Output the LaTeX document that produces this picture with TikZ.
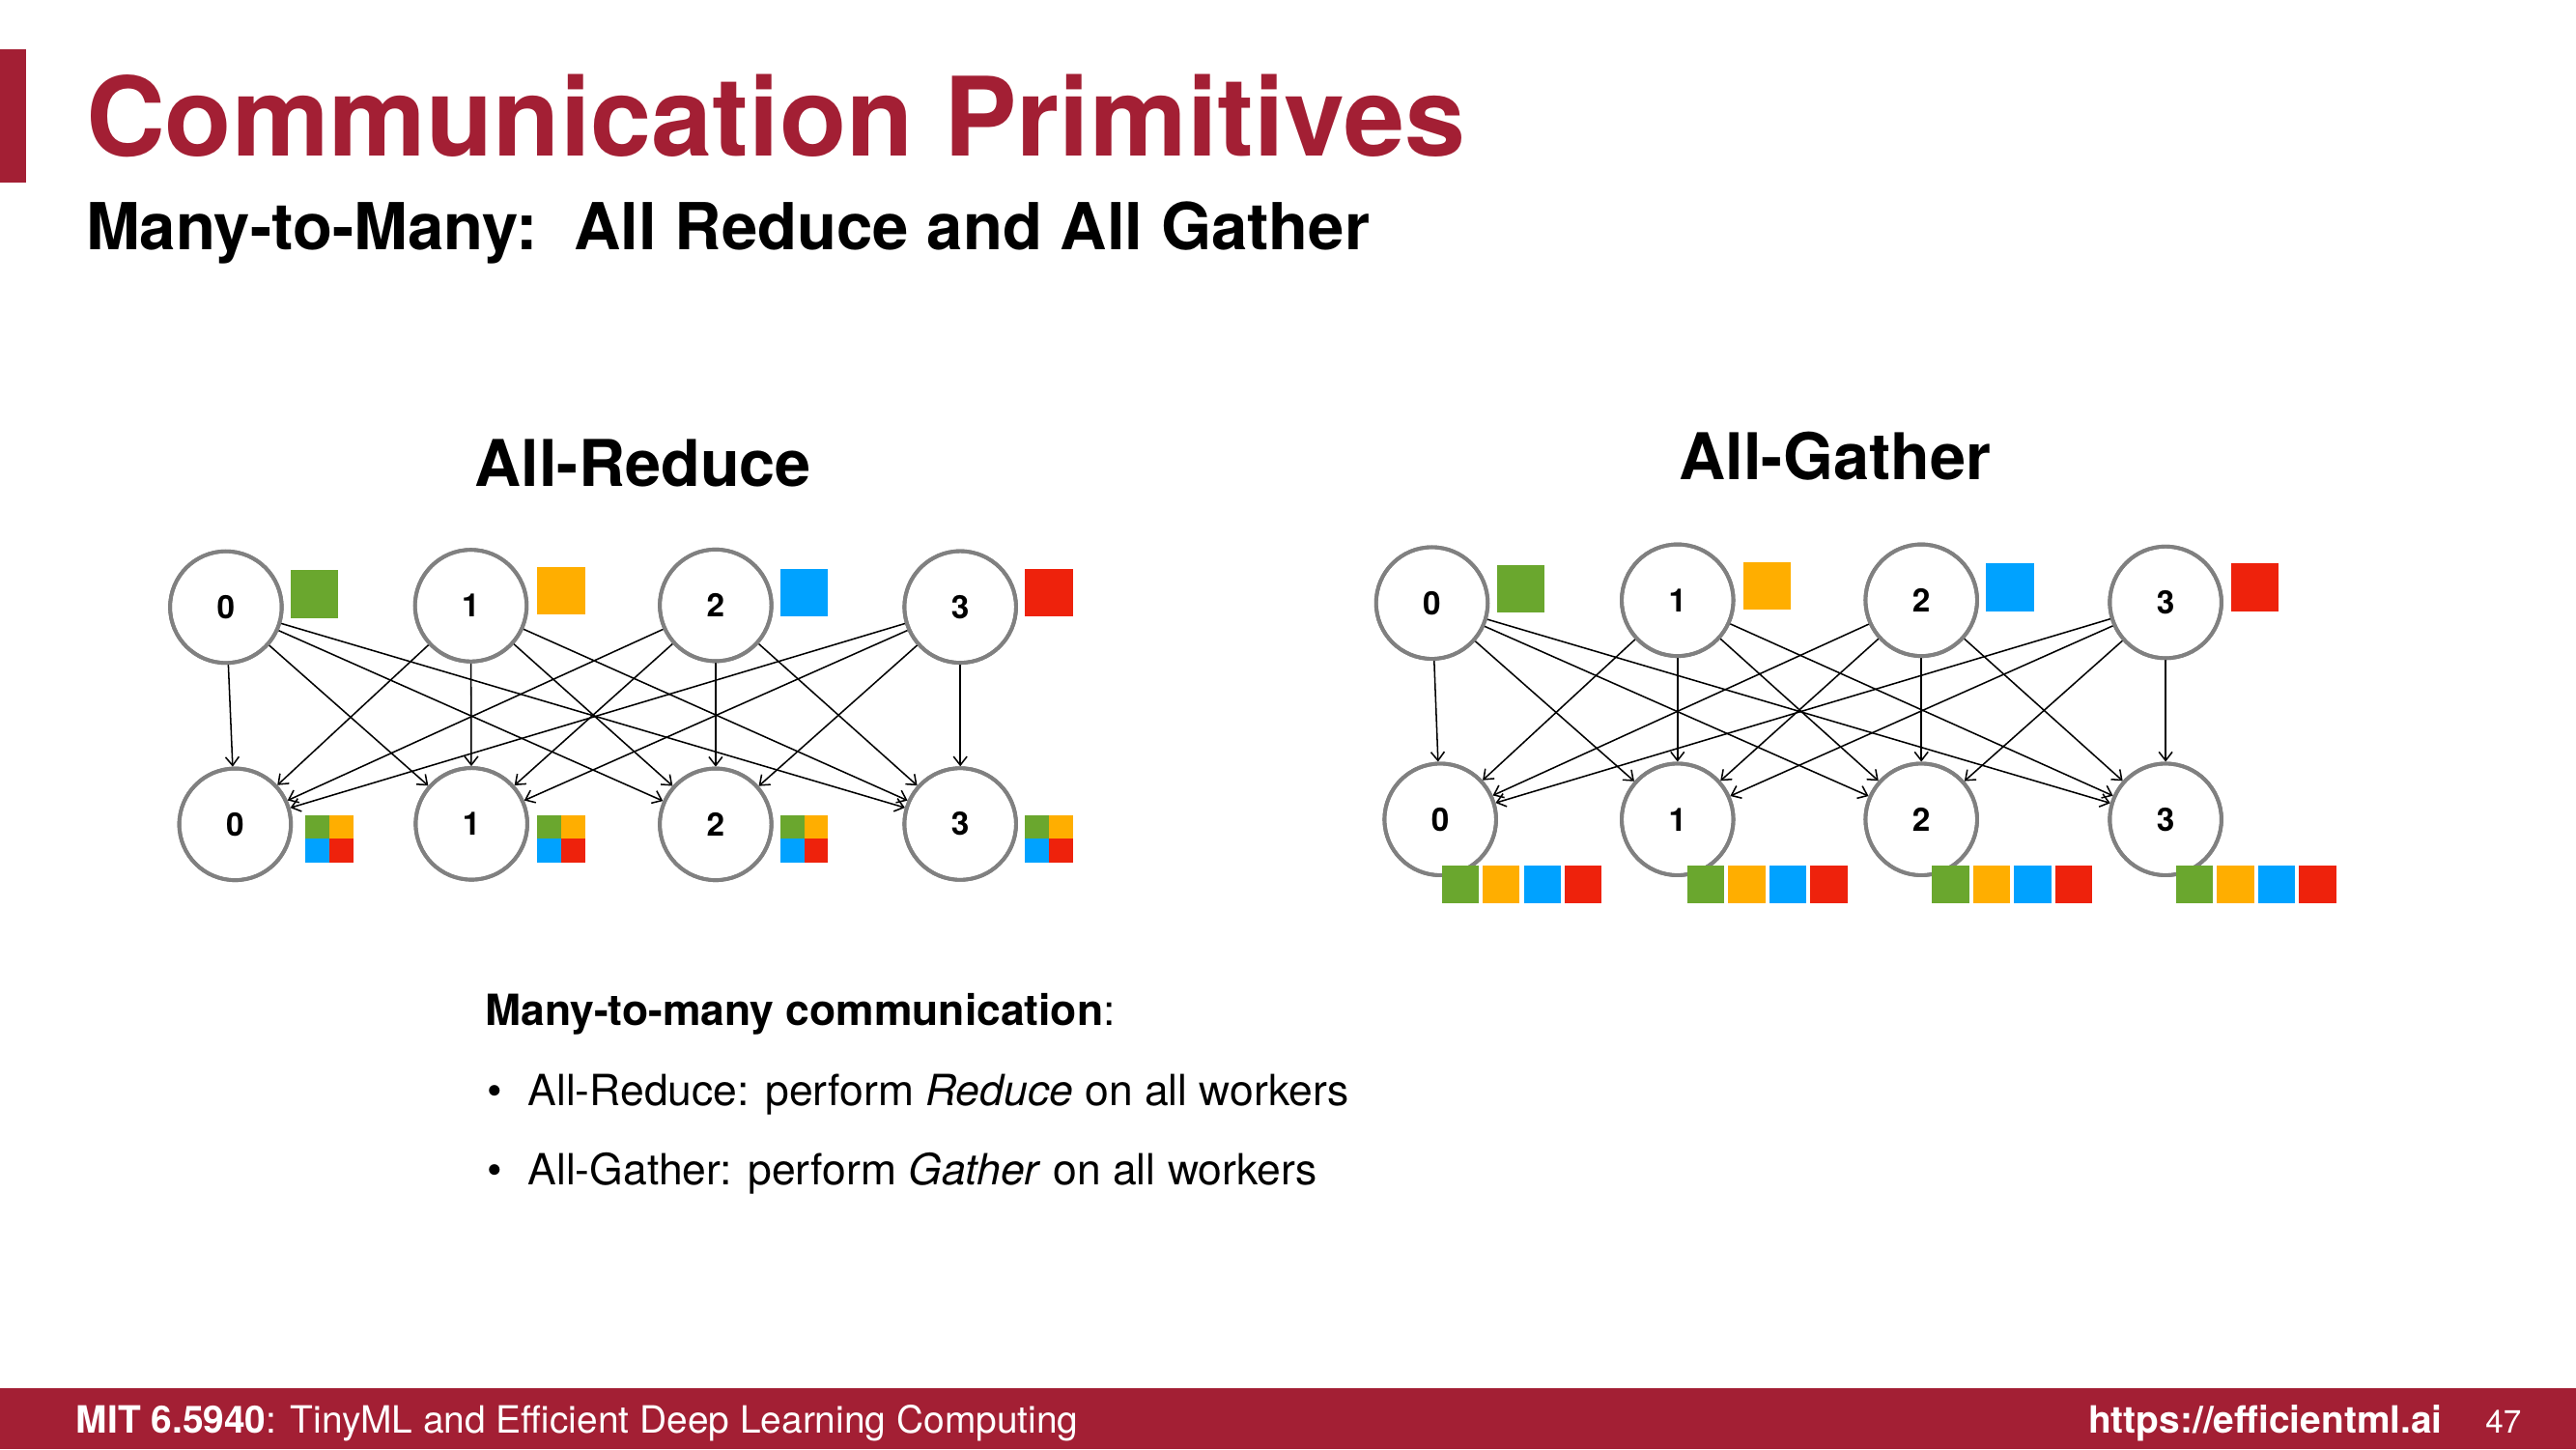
\documentclass[tikz,border=0pt]{standalone}
\usepackage{fontspec}
\setmainfont{TeX Gyre Heros}
\usetikzlibrary{arrows.meta}
\definecolor{mitred}{HTML}{A31F34}
\definecolor{cgreen}{HTML}{6AA72E}
\definecolor{corange}{HTML}{FFAE00}
\definecolor{cblue}{HTML}{00A2FF}
\definecolor{cred}{HTML}{EE220C}
\definecolor{ringgray}{HTML}{808080}
\newcommand{\fsz}[1]{\fontsize{#1}{1.2\dimexpr#1pt\relax}\selectfont}
\begin{document}
\begin{tikzpicture}[x=0.6122pt,y=-0.6122pt,
  worker/.style={circle, draw=ringgray, line width=1.4pt, fill=white,
    minimum size=41.6pt, inner sep=0pt, font=\fsz{12}\bfseries},
  link/.style={black, line width=0.55pt, -{Straight Barb[length=3.2pt,width=5pt]}},
  heading/.style={font=\fsz{24}\bfseries, anchor=base},
  bodytext/.style={font=\fsz{16}, anchor=base west, inner sep=0pt},
  foot/.style={text=white, anchor=base west, inner sep=0pt}]

% page and margins
\useasboundingbox (0,0) rectangle (1568,882);
\fill[white] (0,0) rectangle (1568,882);

% title area
\fill[mitred] (0,30) rectangle (16,111);
\node[anchor=base west, inner sep=0pt, text=mitred, font=\fsz{40.8}\bfseries] (title) at (52,95) {Communication Primitives};
\node[anchor=base west, inner sep=0pt, font=\fsz{24.15}\bfseries] (subtitle) at (52,152) {Many-to-Many:\ \ All Reduce and All Gather};

% ---------- All-Reduce ----------
\node[heading] (arhead) at (391.5,296) {All-Reduce};

\foreach \n/\x/\y in {0/137.5/369.5, 1/286.6/368.6, 2/435.6/368.4, 3/584.5/369.4}
  \node[worker] (rt\n) at (\x,\y) {\n};
\foreach \n/\x/\y in {0/143.1/501.7, 1/287/501.4, 2/435.6/501.7, 3/584.5/501.5}
  \node[worker] (rb\n) at (\x,\y) {\n};

% every worker sends to every worker
\foreach \i in {0,...,3}
  \foreach \j in {0,...,3}
    \draw[link] (rt\i) -- (rb\j);

% redraw rings over the link ends
\foreach \n in {0,...,3} {
  \node[worker, fill=none] at (rt\n) {};
  \node[worker, fill=none] at (rb\n) {};
}

% local chunks
\fill[cgreen]  (177,347) rectangle ++(29,29);
\fill[corange] (327,345) rectangle ++(29,29);
\fill[cblue]   (475,346) rectangle ++(29,29);
\fill[cred]    (624,346) rectangle ++(29,29);

% reduced chunks (2x2)
\foreach \x in {186,327,475,624} {
  \fill[cgreen]  (\x,496) rectangle ++(14.5,14.5);
  \fill[corange] (\x+14.5,496) rectangle ++(14.5,14.5);
  \fill[cblue]   (\x,510.5) rectangle ++(14.5,14.5);
  \fill[cred]    (\x+14.5,510.5) rectangle ++(14.5,14.5);
}

% ---------- All-Gather ----------
\node[heading] (aghead) at (1117,292) {All-Gather};

\foreach \n/\x/\y in {0/871.6/367, 1/1021.1/365.3, 2/1169.5/365.3, 3/1318.2/366.6}
  \node[worker] (gt\n) at (\x,\y) {\n};
\foreach \n/\x/\y in {0/876.7/498.7, 1/1021.1/498.7, 2/1169.5/498.7, 3/1318.2/498.7}
  \node[worker] (gb\n) at (\x,\y) {\n};

\foreach \i in {0,...,3}
  \foreach \j in {0,...,3}
    \draw[link] (gt\i) -- (gb\j);

\foreach \n in {0,...,3} {
  \node[worker, fill=none] at (gt\n) {};
  \node[worker, fill=none] at (gb\n) {};
}

\fill[cgreen]  (911,344) rectangle ++(29,29);
\fill[corange] (1061,342) rectangle ++(29,29);
\fill[cblue]   (1209,343) rectangle ++(29,29);
\fill[cred]    (1358,343) rectangle ++(29,29);

% gathered chunks in a row
\foreach \x in {877.5,1027,1176,1324.5} {
  \fill[cgreen]  (\x,527) rectangle ++(22.5,22.5);
  \fill[corange] (\x+25,527) rectangle ++(22.5,22.5);
  \fill[cblue]   (\x+50,527) rectangle ++(22.5,22.5);
  \fill[cred]    (\x+75,527) rectangle ++(22.5,22.5);
}

% ---------- notes ----------
\node[bodytext] (notehead) at (295,624) {\bfseries Many-to-many communication\mdseries:};
\node[bodytext] (bul1) at (296,673) {\textbullet};
\node[bodytext] (item1) at (321,673) {All-Reduce: perform \textit{Reduce} on all workers};
\node[bodytext] (bul2) at (296,721) {\textbullet};
\node[bodytext] (item2) at (321,721) {All-Gather: perform \textit{Gather} on all workers};

% ---------- footer ----------
\fill[mitred] (0,845) rectangle (1568,882);
\node[foot, font=\fsz{14}] (course) at (46,872) {\bfseries MIT 6.5940\mdseries: TinyML and Efficient Deep Learning Computing};
\node[foot, font=\fsz{14}\bfseries, anchor=base east] (url) at (1487,872) {https://efficientml.ai};
\node[foot, font=\fsz{12}, anchor=base east] (page) at (1535,872) {47};
\end{tikzpicture}
\end{document}
